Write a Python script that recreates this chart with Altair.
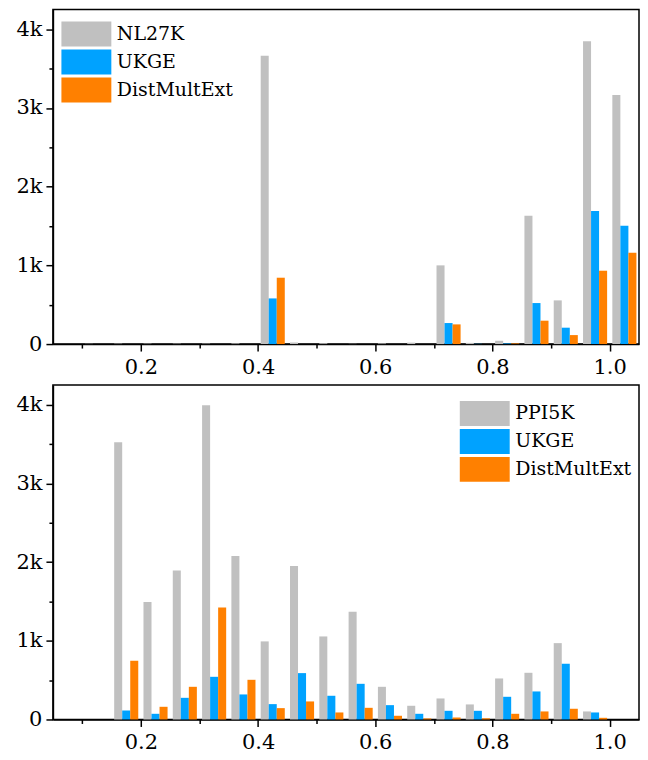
import altair as alt
import pandas as pd

bins = [0.05, 0.10, 0.15, 0.20, 0.25, 0.30, 0.35, 0.40, 0.45, 0.50,
        0.55, 0.60, 0.65, 0.70, 0.75, 0.80, 0.85, 0.90, 0.95, 1.00]

# Top panel (NL27K)
nl27k = [0, 3, 5, 5, 5, 5, 8, 3665, 20, 10, 3, 8, 18, 1000, 15, 42, 1631, 555, 3847, 3165]
nl_ukge = [0, 0, 0, 0, 0, 0, 0, 580, 0, 0, 0, 0, 0, 267, 3, 8, 521, 208, 1691, 1504]
nl_dme = [0, 0, 0, 0, 0, 0, 0, 843, 0, 0, 0, 0, 0, 250, 0, 8, 297, 114, 932, 1161]

# Bottom panel (PPI5K)
ppi5k = [0, 0, 3521, 1492, 1894, 3992, 2076, 992, 1949, 1055, 1369, 415, 174, 267, 191, 521, 593, 970, 102, 0]
ppi_ukge = [0, 0, 114, 72, 275, 542, 318, 195, 589, 301, 453, 182, 72, 110, 110, 288, 356, 708, 89, 0]
ppi_dme = [0, 0, 746, 161, 415, 1424, 504, 144, 229, 89, 148, 47, 13, 25, 15, 72, 102, 136, 21, 0]

top_names = ["NL27K", "UKGE", "DistMultExt"]
bottom_names = ["PPI5K", "UKGE", "DistMultExt"]
colors = ["#c0c0c0", "#00a2ff", "#ff8000"]

x_ticks = [0.1, 0.2, 0.3, 0.4, 0.5, 0.6, 0.7, 0.8, 0.9, 1.0]
y_ticks = [0, 500, 1000, 1500, 2000, 2500, 3000, 3500, 4000]

FONT = "DejaVu Serif"


def panel(names, series, legend_x, legend_y):
    rows = []
    for idx, (name, vals) in enumerate(zip(names, series)):
        for b, v in zip(bins, vals):
            rows.append({"bin": b, "series": name, "idx": idx, "value": v})
    df = pd.DataFrame(rows)
    return alt.Chart(df).transform_calculate(
        x0="datum.bin + 0.0045 + datum.idx * 0.0137",
        x1="datum.bin + 0.0045 + (datum.idx + 1) * 0.0137",
    ).mark_bar().encode(
        x=alt.X(
            "x0:Q",
            scale=alt.Scale(domain=[0.05, 1.05], nice=False, zero=False),
            axis=alt.Axis(
                values=x_ticks,
                title=None,
                labelExpr="round(datum.value * 10) % 2 == 0 ? format(datum.value, '.1f') : ''",
                tickSize={"condition": {"test": "round(datum.value * 10) % 2 == 0", "value": 7}, "value": 4},
                labelPadding=5,
            ),
        ),
        x2="x1:Q",
        y=alt.Y(
            "value:Q",
            stack=None,
            scale=alt.Scale(domain=[0, 4250], nice=False),
            axis=alt.Axis(
                values=y_ticks,
                title=None,
                labelExpr="datum.value % 1000 == 0 ? (datum.value == 0 ? '0' : (datum.value / 1000) + 'k') : ''",
                tickSize={"condition": {"test": "datum.value % 1000 == 0", "value": 7}, "value": 4},
                labelPadding=4,
            ),
        ),
        y2=alt.datum(0),
        color=alt.Color(
            "series:N",
            scale=alt.Scale(domain=names, range=colors),
            legend=alt.Legend(
                orient="none",
                legendX=legend_x,
                legendY=legend_y,
                title=None,
                symbolType="M-2,-1H2V1H-2Z",
                symbolSize=625,
                symbolStrokeWidth=0,
                labelFont=FONT,
                labelFontSize=19,
                labelColor="black",
                labelOffset=18,
                rowPadding=3,
                padding=0,
            ),
        ),
    ).properties(width=587, height=335)


top = panel(top_names, [nl27k, nl_ukge, nl_dme], 21, 12)
bottom = panel(bottom_names, [ppi5k, ppi_ukge, ppi_dme], 420, 16)

chart = alt.vconcat(top, bottom, spacing=6).resolve_scale(
    color="independent"
).resolve_legend(
    color="independent"
).configure_view(
    stroke="black", strokeWidth=1.5
).configure_axis(
    labelFont=FONT,
    labelFontSize=21,
    labelColor="black",
    domainColor="black",
    domainWidth=1.5,
    tickColor="black",
    tickWidth=1.5,
    grid=False,
    labelFlush=False,
).properties(
    padding={"left": 7, "top": 0, "right": 0, "bottom": 0},
    background="white",
)

chart.save("out.html", embed_options={"renderer": "svg", "actions": False})
